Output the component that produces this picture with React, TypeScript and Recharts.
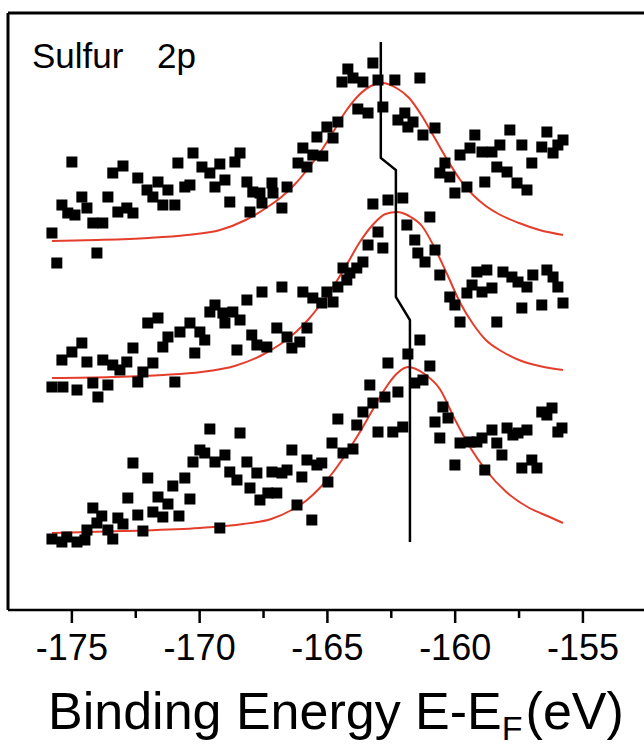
import React from "react"
import {
  ComposedChart,
  Scatter,
  Line,
  XAxis,
  YAxis,
  ReferenceLine,
} from "recharts"

// binding energy (eV), intensity (arb. units)
const topSpectrum: [number, number][] = [
  [-175.78, 377], [-175.59, 347], [-175.39, 405], [-175.16, 397], [-175.0, 448],
  [-174.88, 395], [-174.61, 413], [-174.41, 402], [-174.18, 387], [-174.02, 357],
  [-173.79, 387], [-173.59, 413], [-173.4, 437], [-173.2, 398], [-173.0, 444],
  [-172.85, 402], [-172.61, 397], [-172.42, 432], [-172.06, 420], [-171.83, 413],
  [-171.63, 428], [-171.44, 405], [-171.24, 420], [-170.97, 405], [-170.85, 447],
  [-170.58, 423], [-170.38, 425], [-170.26, 457], [-169.91, 443], [-169.6, 437],
  [-169.4, 423], [-169.21, 446], [-169.01, 430], [-168.82, 408], [-168.62, 448],
  [-168.42, 457], [-168.15, 428], [-168.03, 398], [-167.92, 418], [-167.64, 417],
  [-167.56, 407], [-167.17, 427], [-167.13, 417], [-166.78, 402], [-166.58, 423],
  [-166.15, 447], [-165.96, 462], [-165.8, 443], [-165.57, 455], [-165.41, 473],
  [-165.18, 454], [-165.02, 483], [-164.78, 472], [-164.59, 488], [-164.43, 528],
  [-164.2, 541], [-164.0, 532], [-163.81, 501], [-163.61, 528], [-163.41, 497],
  [-163.22, 547], [-163.02, 530], [-162.83, 503], [-162.36, 530], [-162.24, 490],
  [-161.97, 497], [-161.85, 483], [-161.65, 488], [-161.38, 532], [-161.26, 475],
  [-160.79, 482], [-160.6, 437], [-160.4, 447], [-160.21, 433], [-160.01, 417],
  [-159.81, 455], [-159.54, 423], [-159.42, 462], [-159.23, 475], [-158.95, 458],
  [-158.84, 428], [-158.56, 458], [-158.37, 443], [-158.25, 465], [-157.97, 438],
  [-157.86, 480], [-157.58, 427], [-157.39, 465], [-157.19, 420], [-157.0, 447],
  [-156.61, 463], [-156.41, 478], [-156.17, 457], [-155.98, 465], [-155.78, 470],
]

const middleSpectrum: [number, number][] = [
  [-175.78, 223], [-175.39, 250], [-175.35, 223], [-175.0, 258], [-174.8, 220],
  [-174.61, 267], [-174.41, 248], [-174.18, 227], [-173.98, 213], [-173.79, 250],
  [-173.59, 225], [-173.4, 245], [-173.12, 240], [-172.85, 248], [-172.61, 262],
  [-172.42, 228], [-172.22, 238], [-172.03, 287], [-171.83, 247], [-171.63, 292],
  [-171.44, 263], [-171.24, 273], [-170.97, 228], [-170.77, 278], [-170.38, 287],
  [-170.19, 257], [-169.99, 278], [-169.8, 270], [-169.6, 298], [-169.4, 305],
  [-169.09, 297], [-169.01, 287], [-168.7, 298], [-168.54, 260], [-168.42, 290],
  [-168.15, 310], [-167.96, 275], [-167.76, 265], [-167.56, 318], [-167.37, 263],
  [-166.98, 282], [-166.78, 323], [-166.58, 273], [-166.39, 262], [-166.08, 268],
  [-165.96, 318], [-165.8, 282], [-165.57, 312], [-165.22, 307], [-165.02, 318],
  [-164.78, 308], [-164.59, 323], [-164.39, 342], [-164.24, 330], [-164.12, 337],
  [-163.85, 342], [-163.61, 348], [-163.41, 365], [-163.22, 406], [-163.02, 378],
  [-162.83, 362], [-162.63, 410], [-162.05, 412], [-161.89, 385], [-161.58, 370],
  [-161.46, 357], [-161.18, 348], [-160.99, 393], [-160.79, 360], [-160.6, 335],
  [-160.21, 313], [-160.01, 305], [-159.81, 288], [-159.54, 317], [-159.34, 325],
  [-159.15, 338], [-158.95, 318], [-158.76, 340], [-158.56, 322], [-158.37, 288],
  [-158.13, 338], [-157.78, 333], [-157.54, 328], [-157.39, 302], [-157.19, 323],
  [-156.96, 335], [-156.61, 305], [-156.41, 340], [-156.17, 333], [-155.98, 323],
  [-155.78, 307],
]

const bottomSpectrum: [number, number][] = [
  [-175.78, 71], [-175.39, 68], [-175.2, 73], [-174.8, 68], [-174.49, 70],
  [-174.41, 80], [-174.18, 102], [-174.02, 87], [-173.83, 94], [-173.59, 80],
  [-173.4, 71], [-173.2, 92], [-173.0, 86], [-172.81, 112], [-172.61, 147],
  [-172.42, 95], [-172.22, 79], [-172.03, 132], [-171.83, 98], [-171.63, 113],
  [-171.44, 93], [-171.24, 106], [-171.05, 124], [-170.81, 94], [-170.58, 132],
  [-170.38, 111], [-170.26, 148], [-169.99, 160], [-169.8, 157], [-169.6, 181],
  [-169.4, 148], [-169.21, 82], [-169.01, 155], [-168.82, 138], [-168.54, 130],
  [-168.42, 177], [-168.15, 148], [-168.03, 122], [-167.76, 137], [-167.64, 110],
  [-167.33, 117], [-167.17, 138], [-166.98, 117], [-166.78, 137], [-166.58, 140],
  [-166.39, 160], [-166.19, 105], [-166.0, 133], [-165.8, 150], [-165.61, 90],
  [-165.41, 145], [-165.22, 147], [-164.98, 128], [-164.82, 167], [-164.59, 191],
  [-164.39, 157], [-164.0, 161], [-163.85, 185], [-163.61, 198], [-163.34, 225],
  [-163.22, 207], [-163.02, 178], [-162.75, 213], [-162.63, 247], [-162.44, 178],
  [-162.24, 218], [-162.05, 183], [-161.85, 256], [-161.58, 227], [-161.38, 270],
  [-161.26, 230], [-160.99, 244], [-160.79, 188], [-160.6, 172], [-160.48, 203],
  [-160.28, 192], [-160.01, 145], [-159.81, 167], [-159.42, 168], [-159.15, 168],
  [-158.95, 172], [-158.84, 140], [-158.56, 180], [-158.37, 167], [-158.17, 155],
  [-157.97, 182], [-157.74, 175], [-157.54, 177], [-157.39, 142], [-157.19, 180],
  [-157.0, 150], [-156.8, 142], [-156.61, 198], [-156.41, 195], [-156.21, 202],
  [-155.98, 178], [-155.82, 182],
]

// fitted peak envelopes
const topFit: [number, number][] = [
  [-175.78, 369], [-174.0, 370], [-172.0, 372], [-170.5, 375], [-169.2, 380],
  [-168.2, 390], [-167.4, 402], [-166.8, 413], [-166.3, 425], [-165.8, 440],
  [-165.3, 457], [-164.8, 477], [-164.3, 498], [-163.8, 514], [-163.3, 524],
  [-162.85, 527], [-162.3, 522], [-161.8, 512], [-161.3, 494], [-160.8, 472],
  [-160.3, 450], [-159.8, 430], [-159.3, 415], [-158.8, 404], [-158.3, 396],
  [-157.5, 387], [-156.7, 380], [-155.78, 375],
]

const middleFit: [number, number][] = [
  [-175.78, 232], [-173.43, 233], [-171.43, 235], [-169.93, 238], [-168.63, 244],
  [-167.63, 254], [-166.83, 266], [-166.23, 278], [-165.73, 291], [-165.23, 307],
  [-164.73, 325], [-164.23, 346], [-163.73, 368], [-163.23, 385], [-162.73, 396],
  [-162.28, 398], [-161.8, 394], [-161.3, 384], [-160.8, 362], [-160.3, 335],
  [-159.8, 307], [-159.3, 286], [-158.8, 270], [-158.2, 259], [-157.5, 250],
  [-156.7, 244], [-155.78, 240],
]

const bottomFit: [number, number][] = [
  [-175.78, 77], [-173.0, 79], [-170.0, 82], [-168.3, 86], [-167.2, 91],
  [-166.4, 100], [-165.8, 110], [-165.3, 122], [-164.8, 137], [-164.3, 155],
  [-163.8, 175], [-163.3, 197], [-162.8, 219], [-162.3, 236], [-161.85, 243],
  [-161.2, 236], [-160.6, 221], [-160.0, 190], [-159.4, 162], [-158.8, 140],
  [-158.0, 118], [-157.1, 102], [-156.3, 93], [-155.78, 87],
]

// peak position marker
const peakShift: [number, number][] = [
  [-162.91, 568], [-162.91, 452], [-162.32, 440], [-162.32, 313], [-161.77, 290], [-161.77, 68],
]

const xTicks = [-175, -172.5, -170, -167.5, -165, -162.5, -160, -157.5, -155]

const toPoints = (arr: [number, number][]) => arr.map(([x, y]) => ({ x, y }))

const FONT = "'Liberation Sans', Arial, sans-serif"
const RED = "#e53d2b"

const Square = (props: any) => (
  <rect x={props.cx - 5.5} y={props.cy - 5.5} width={11} height={11} fill="#000" />
)

const EnergyTick = (props: any) => {
  const { x, y, payload } = props
  const major = payload.value % 5 === 0
  return (
    <g>
      <line x1={x} x2={x} y1={y} y2={y + (major ? 13 : 8)} stroke="#000" strokeWidth={2.5} />
      {major && (
        <text x={x} y={y + 50} textAnchor="middle" fontSize={36} fontFamily={FONT} fill="#000">
          {payload.value}
        </text>
      )}
    </g>
  )
}

export default function App() {
  return (
    <div style={{ position: "absolute", left: 0, top: 0, width: 644, height: 750, overflow: "hidden", background: "#fff" }}>
      <ComposedChart width={644} height={750} margin={{ top: 13, right: 0, bottom: 80, left: 8 }}>
        <XAxis
          dataKey="x"
          type="number"
          domain={[-177.5, -152.61]}
          ticks={xTicks}
          interval={0}
          height={60}
          allowDataOverflow
          tickSize={0}
          tickMargin={0}
          tickLine={false}
          tick={<EnergyTick />}
          axisLine={{ stroke: "#000", strokeWidth: 2.5 }}
        />
        <YAxis dataKey="y" type="number" domain={[0, 597]} hide />
        <ReferenceLine y={597} stroke="#000" strokeWidth={3} />
        <ReferenceLine x={-177.5} stroke="#000" strokeWidth={3} />
        <Scatter data={toPoints(topSpectrum)} shape={<Square />} isAnimationActive={false} />
        <Scatter data={toPoints(middleSpectrum)} shape={<Square />} isAnimationActive={false} />
        <Scatter data={toPoints(bottomSpectrum)} shape={<Square />} isAnimationActive={false} />
        <Line data={toPoints(topFit)} dataKey="y" type="monotone" stroke={RED} strokeWidth={2} dot={false} isAnimationActive={false} />
        <Line data={toPoints(middleFit)} dataKey="y" type="monotone" stroke={RED} strokeWidth={2} dot={false} isAnimationActive={false} />
        <Line data={toPoints(bottomFit)} dataKey="y" type="monotone" stroke={RED} strokeWidth={2} dot={false} isAnimationActive={false} />
        <Line data={toPoints(peakShift)} dataKey="y" type="linear" stroke="#000" strokeWidth={2.5} dot={false} isAnimationActive={false} />
      </ComposedChart>
      <svg width={644} height={750} style={{ position: "absolute", left: 0, top: 0, pointerEvents: "none" }}>
        <text x={32} y={68} fontSize={35} fontFamily={FONT} fill="#000">Sulfur</text>
        <text x={157} y={68} fontSize={35} fontFamily={FONT} fill="#000">2p</text>
        <text x={48} y={729} fontSize={52} fontFamily={FONT} fill="#000">
          Binding Energy E-E
          <tspan fontSize={34} dy={11}>F</tspan>
          <tspan dy={-11} dx={3}>(eV)</tspan>
        </text>
      </svg>
    </div>
  )
}
